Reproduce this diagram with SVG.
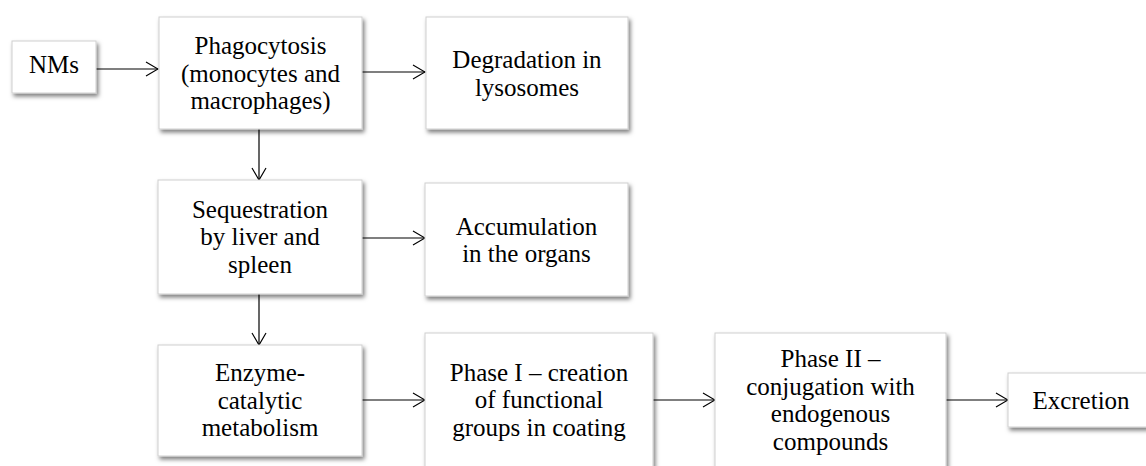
<svg xmlns="http://www.w3.org/2000/svg" width="1146" height="466" viewBox="0 0 1146 466">
  <defs>
    <filter id="shadow" x="-10%" y="-10%" width="130%" height="140%">
      <feDropShadow dx="2" dy="3" stdDeviation="2" flood-color="#000" flood-opacity="0.5"/>
    </filter>
    <marker id="arrow" viewBox="0 0 14 16" refX="13" refY="8" markerWidth="14" markerHeight="16" markerUnits="userSpaceOnUse" orient="auto">
      <path d="M1,1 L13,8 L1,15" fill="none" stroke="#000" stroke-width="1.2"/>
    </marker>
  </defs>
  <style>
    .box { fill: #fff; stroke: #cfcfcf; stroke-width: 1; filter: url(#shadow); }
    .conn { stroke: #000; stroke-width: 1.2; fill: none; marker-end: url(#arrow); }
  </style>
  <rect width="1146" height="466" fill="#fff"/>

  <g id="connectors">
    <line class="conn" x1="96" y1="69" x2="158" y2="69"/>
    <line class="conn" x1="362" y1="72" x2="425" y2="72"/>
    <line class="conn" x1="259" y1="129" x2="259" y2="180"/>
    <line class="conn" x1="362" y1="238" x2="425" y2="238"/>
    <line class="conn" x1="259" y1="294" x2="259" y2="345"/>
    <line class="conn" x1="362" y1="400" x2="425" y2="400"/>
    <line class="conn" x1="653" y1="400" x2="715" y2="400"/>
    <line class="conn" x1="946" y1="400" x2="1008" y2="400"/>
  </g>

  <g font-family="Liberation Serif, Times New Roman, DejaVu Serif, serif" font-size="25" fill="#000" text-anchor="middle">
  <g id="node-nms">
    <rect class="box" x="12" y="41" width="84" height="52"/>
    <text x="54" y="73">NMs</text>
  </g>

  <g id="node-phagocytosis">
    <rect class="box" x="159" y="17" width="203" height="112"/>
    <text x="260.5" y="54">Phagocytosis</text>
    <text x="260.5" y="81.5">(monocytes and</text>
    <text x="260.5" y="109">macrophages)</text>
  </g>

  <g id="node-degradation">
    <rect class="box" x="426" y="17" width="202" height="112"/>
    <text x="527" y="68">Degradation in</text>
    <text x="527" y="95.5">lysosomes</text>
  </g>

  <g id="node-sequestration">
    <rect class="box" x="158" y="180" width="204" height="114"/>
    <text x="260" y="217.5">Sequestration</text>
    <text x="260" y="245">by liver and</text>
    <text x="260" y="272.5">spleen</text>
  </g>

  <g id="node-accumulation">
    <rect class="box" x="425" y="183" width="203" height="113"/>
    <text x="526.5" y="234.5">Accumulation</text>
    <text x="526.5" y="262">in the organs</text>
  </g>

  <g id="node-enzyme">
    <rect class="box" x="158" y="345" width="204" height="111"/>
    <text x="260" y="381">Enzyme-</text>
    <text x="260" y="408.5">catalytic</text>
    <text x="260" y="436">metabolism</text>
  </g>

  <g id="node-phase1">
    <rect class="box" x="425" y="333" width="228" height="140"/>
    <text x="539" y="380.5">Phase I – creation</text>
    <text x="539" y="408">of functional</text>
    <text x="539" y="435.5">groups in coating</text>
  </g>

  <g id="node-phase2">
    <rect class="box" x="715" y="333" width="231" height="140"/>
    <text x="830.5" y="367">Phase II –</text>
    <text x="830.5" y="394.5">conjugation with</text>
    <text x="830.5" y="422">endogenous</text>
    <text x="830.5" y="449.5">compounds</text>
  </g>

  <g id="node-excretion">
    <rect class="box" x="1008" y="373" width="140" height="54"/>
    <text x="1081" y="408.5">Excretion</text>
  </g>
  </g>
</svg>
